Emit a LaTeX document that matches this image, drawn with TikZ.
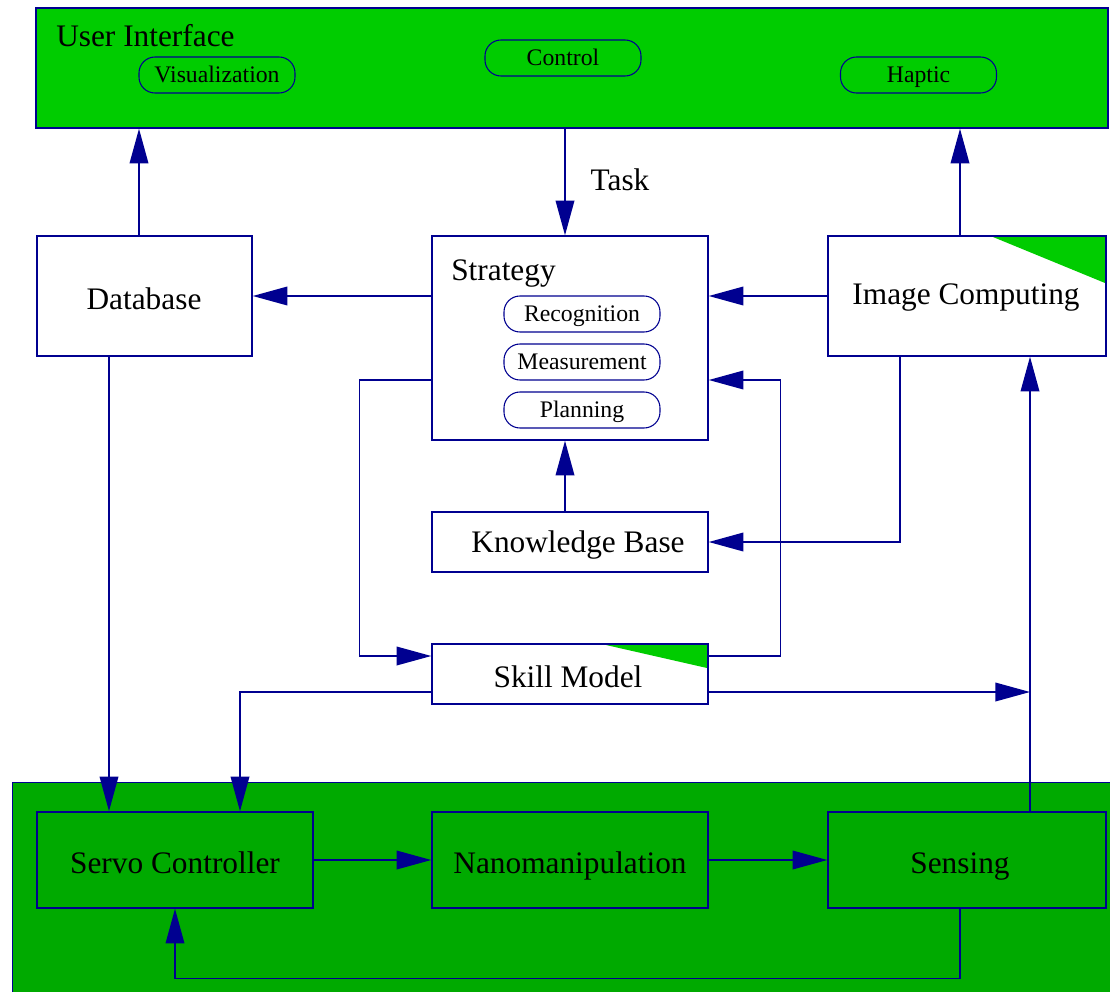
\documentclass[tikz,border=0pt]{standalone}
\usepackage{fontspec}
\setmainfont{Liberation Serif}
\usetikzlibrary{arrows.meta}
\definecolor{navy}{HTML}{000090}
\definecolor{ltgreen}{HTML}{00CC00}
\definecolor{dkgreen}{HTML}{00AA00}
\tikzset{
  box/.style={draw=navy, line width=1.1pt, rectangle, inner sep=0pt},
  pill/.style={draw=navy, line width=0.8pt, rectangle, rounded corners=12pt, inner sep=0pt,
     minimum width=117pt, minimum height=27pt, text height=13.2pt, text depth=2.6pt,
     font=\fontsize{17.8}{20}\selectfont},
  conn/.style={draw=navy, line width=1.1pt, -{Triangle[length=26pt,width=14pt]}},
  big/.style={font=\fontsize{23.5}{28}\selectfont, inner sep=0pt, anchor=base}
}
\begin{document}
\begin{tikzpicture}[x=0.75pt,y=-0.75pt]
\useasboundingbox (0,0) rectangle (1110,992);
% bottom green region
\fill[dkgreen, draw=navy, line width=0.5pt] (12,782) rectangle (1130,1010);
% user interface
\node[box, fill=ltgreen, minimum width=804pt, minimum height=90pt] (ui) at (572,68) {};
\node[big, anchor=base west] (uit) at (56,46) {User Interface};
\node[pill] (vis) at (217,75) {Visualization};
\node[pill] (ctl) at (563,58) {Control};
\node[pill] (hap) at (918.5,75) {Haptic};

% database
\node[box, fill=white, minimum width=161.25pt, minimum height=90pt] (db) at (144.5,296) {};
\node[big] (dbt) at (144,309) {Database};

% strategy
\node[box, fill=white, minimum width=207pt, minimum height=153pt] (st) at (570,338) {};
\node[big, anchor=base west] (stt) at (451,280) {Strategy};
\node[pill, fill=white] (rec) at (582,314) {Recognition};
\node[pill, fill=white] (mea) at (582,362) {Measurement};
\node[pill, fill=white] (pla) at (582,410) {Planning};

% image computing
\node[box, fill=white, minimum width=208.5pt, minimum height=90pt] (ic) at (967,296) {};
\fill[ltgreen] (993,237) -- (1105,237) -- (1105,283) -- cycle;
\node[box, minimum width=208.5pt, minimum height=90pt] (icb) at (967,296) {};
\node[big] (ict) at (966,304) {Image Computing};

% knowledge base
\node[box, fill=white, minimum width=207pt, minimum height=45pt] (kb) at (570,542) {};
\node[big] (kbt) at (578,552) {Knowledge Base};

% skill model
\node[box, fill=white, minimum width=207pt, minimum height=45pt] (sk) at (570,674) {};
\fill[ltgreen] (606,645) -- (707,645) -- (707,668) -- cycle;
\node[box, minimum width=207pt, minimum height=45pt] (skb) at (570,674) {};
\node[big] (skt) at (568,687) {Skill Model};

% bottom row
\node[box, minimum width=207pt, minimum height=72pt] (sv) at (175,860) {};
\node[big] (svt) at (175,873) {Servo Controller};
\node[box, minimum width=207pt, minimum height=72pt] (na) at (570,860) {};
\node[big] (nat) at (570,873) {Nanomanipulation};
\node[box, minimum width=208.5pt, minimum height=72pt] (se) at (967,860) {};
\node[big] (set) at (960,873) {Sensing};

% connectors
\draw[conn] (db.north -| 139,0) -- (ui.south -| 139,0);
\draw[conn] (ui.south -| 565,0) -- (st.north -| 565,0);
\node[big] (task) at (620,190) {Task};
\draw[conn] (ic.north -| 960,0) -- (ui.south -| 960,0);
\draw[conn] (st.west |- 0,296) -- (db.east |- 0,296);
\draw[conn] (ic.west |- 0,296) -- (st.east |- 0,296);
\draw[conn] (st.west |- 0,380) -- ++(-72,0) |- (sk.west |- 0,656);
\draw[conn] (sk.east |- 0,656) -- ++(72,0) |- (st.east |- 0,380);
\draw[conn] (kb.north -| 565,0) -- (st.south -| 565,0);
\draw[conn] (ic.south -| 900,0) |- (kb.east |- 0,542);
\draw[conn] (db.south -| 109,0) -- (sv.north -| 109,0);
\draw[conn] (sk.west |- 0,692) -| (sv.north -| 240,0);
\coordinate (jn) at (1030,692);
\draw[conn] (sk.east |- 0,692) -- (jn);
\draw[conn] (se.north -| 1030,0) -- (ic.south -| 1030,0);
\draw[conn] (sv.east) -- (na.west);
\draw[conn] (na.east) -- (se.west);
\draw[conn] (se.south -| 960,0) -- ++(0,70) -| (sv.south);
\end{tikzpicture}
\end{document}
